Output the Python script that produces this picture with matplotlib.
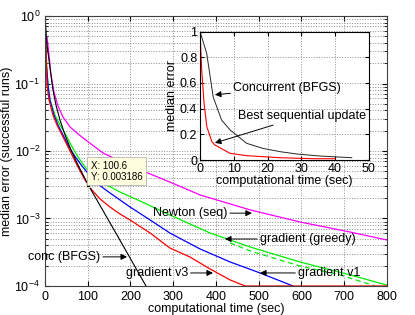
import numpy as np
import matplotlib
matplotlib.use('Agg')
from matplotlib import pyplot as plt

plt.rcParams['font.family'] = ['Liberation Sans', 'DejaVu Sans']
plt.rcParams['font.size'] = 9
plt.rcParams['mathtext.fontset'] = 'custom'
plt.rcParams['mathtext.rm'] = 'Liberation Sans'

# main plot: median error vs computational time (sec)
t_conc = [0, 2.3, 4.7, 9.4, 14, 18.7, 25.7, 35.1, 46.8, 60.8, 77.2, 100.6, 168.4, 236.3]
e_conc = [1.0, 0.62, 0.372, 0.223, 0.134, 0.0801, 0.048, 0.0288, 0.0173, 0.01035, 0.0062,
          0.003186, 0.00057, 1e-4]

t_v3 = [1.5, 3, 4.7, 9.4, 18.7, 28, 39.8, 51.5, 63.2, 77.2, 93.6, 110, 128.7, 152, 175, 199,
        246, 292, 339, 386, 433, 468, 800]
e_v3 = [0.5, 0.2, 0.095, 0.057, 0.0341, 0.0243, 0.0173, 0.0123, 0.00873, 0.00579, 0.00372,
        0.00264, 0.00195, 0.00148, 0.00117, 0.00095, 0.00061, 0.000366, 0.000269, 0.000179,
        0.000123, 1e-4, 1e-4]

t_v1 = [1, 2.3, 7, 11.7, 21, 30.4, 42.1, 53.8, 67.8, 86.5, 117, 152, 199, 246, 292, 363, 433,
        503, 580]
e_v1 = [0.6, 0.223, 0.095, 0.057, 0.0341, 0.0243, 0.0173, 0.0123, 0.00873, 0.0060, 0.00347,
        0.00239, 0.00148, 0.00095, 0.00061, 0.000353, 0.000227, 0.000156, 1e-4]

t_greedy = [0, 2.3, 7, 11.7, 23.4, 35.1, 49.1, 60.8, 77.2, 93.6, 110, 135.7, 175.4, 222, 292,
            386, 480, 596.5, 713.5, 800]
e_greedy = [1.0, 0.313, 0.095, 0.057, 0.0341, 0.0243, 0.0173, 0.0123, 0.00815, 0.00579, 0.00441,
            0.00336, 0.00247, 0.00182, 0.00113, 0.00061, 0.000378, 0.000227, 0.000146, 0.000103]

t_greedy2 = [433, 480, 596, 690, 772]
e_greedy2 = [0.000434, 0.00033, 0.000198, 0.000146, 1e-4]

t_newton = [4.7, 9.4, 14, 21, 30.4, 42.1, 58.5, 77.2, 98.2, 135.7, 175.4, 229, 292, 363, 480,
            596.5, 713.5, 800]
e_newton = [0.489, 0.264, 0.134, 0.0748, 0.0464, 0.0319, 0.0227, 0.0179, 0.0141, 0.00934,
            0.00711, 0.00506, 0.00347, 0.00223, 0.00134, 0.000888, 0.000631, 0.00048]

# inset: first 50 sec on linear scale
ti_conc = [0, 1.97, 3.9, 6.4, 8.9, 13.8, 18.7, 23.7, 28.6, 35.5, 44.9]
ei_conc = [1.0, 0.83, 0.49, 0.31, 0.234, 0.13, 0.09, 0.065, 0.047, 0.031, 0.018]
ti_seq = [0, 0.5, 1.2, 2, 3.5, 4.4, 8.9, 13.8, 23.7, 33.5, 40]
ei_seq = [1.0, 0.70, 0.44, 0.26, 0.143, 0.117, 0.052, 0.034, 0.018, 0.010, 0.010]

xticks = [0, 100, 200, 300, 400, 500, 600, 700, 800]
xticks_in = [0, 10, 20, 30, 40, 50]
yticks_in = [0, 0.2, 0.4, 0.6, 0.8, 1]

fig = plt.figure(figsize=(4.15, 3.15), dpi=100)
ax = fig.add_axes([0.1084, 0.0921, 0.8241, 0.857])

ax.plot(t_newton, e_newton, color='#ff00ff', lw=0.9)
ax.plot(t_greedy, e_greedy, color='#00ee00', lw=0.9)
ax.plot(t_greedy2, e_greedy2, color='#00ee00', lw=0.9, ls='--', dashes=(4, 3))
ax.plot(t_v1, e_v1, color='#0000ff', lw=0.9)
ax.plot(t_v3, e_v3, color='#ff0000', lw=0.9, clip_on=False)
ax.plot(t_conc, e_conc, color='k', lw=0.8)

ax.set_yscale('log')
ax.set_xlim(0, 800)
ax.set_ylim(1e-4, 1)
ax.set_xticks(xticks)
ax.tick_params(which='both', direction='in', top=True, right=True, labelsize=9)
ax.tick_params(which='major', length=3.5)
ax.tick_params(which='minor', length=2)
ax.grid(True, which='major', ls=':', color='0.55', lw=0.7)
ax.grid(True, which='minor', axis='y', ls=':', color='0.55', lw=0.7)
for s in ax.spines.values():
    s.set_color('0.25')
ax.set_xlabel('computational time (sec)', fontsize=9, labelpad=0)
ax.set_ylabel('median error (successful runs)', fontsize=9, labelpad=1)

arr = dict(arrowstyle='-|>', color='k', lw=0.7, mutation_scale=9, shrinkA=0, shrinkB=0)
ax.annotate('conc (BFGS)', xy=(192, 2.7e-4), xytext=(129, 2.7e-4), ha='right', va='center',
            fontsize=9, arrowprops=arr)
ax.annotate('gradient v3', xy=(393, 1.56e-4), xytext=(334, 1.56e-4), ha='right', va='center',
            fontsize=9, arrowprops=arr)
ax.annotate('gradient v1', xy=(503, 1.56e-4), xytext=(592, 1.56e-4), ha='left', va='center',
            fontsize=9, arrowprops=arr)
ax.annotate('gradient (greedy)', xy=(421, 4.97e-4), xytext=(503, 4.97e-4), ha='left', va='center',
            fontsize=9, arrowprops=arr)
ax.annotate('Newton (seq)', xy=(484, 1.2e-3), xytext=(426, 1.2e-3), ha='right', va='center',
            fontsize=9, arrowprops=arr)

# data tip on the concurrent curve
ax.plot([t_conc[11]], [e_conc[11]], marker='s', ms=3.5, color='k', mec='#ffffe0', mew=0.6)
ax.annotate('X: %.1f\nY: %g' % (t_conc[11], e_conc[11]), xy=(t_conc[11], e_conc[11]),
            xytext=(2, 2), textcoords='offset points', ha='left', va='bottom', fontsize=7,
            linespacing=1.15,
            bbox=dict(boxstyle='square,pad=0.35', fc='#ffffe0', ec='0.7', lw=0.6))

ins = fig.add_axes([0.482, 0.492, 0.407, 0.408])
ins.set_facecolor('white')
ins.plot(ti_conc, ei_conc, color='0.15', lw=0.7)
ins.plot(ti_seq, ei_seq, color='#ff0000', lw=0.8)
ins.set_xlim(0, 50)
ins.set_ylim(0, 1)
ins.set_xticks(xticks_in)
ins.set_yticks(yticks_in)
ins.set_yticklabels(['0', '0.2', '0.4', '0.6', '0.8', '1'])
ins.tick_params(direction='in', top=True, right=True, labelsize=9, length=3, pad=2)
ins.grid(True, ls=':', color='0.55', lw=0.7)
ins.set_xlabel('computational time (sec)', fontsize=9, labelpad=0)
ins.set_ylabel('median error', fontsize=9, labelpad=1)
ins.annotate('Concurrent (BFGS)', xy=(4.4, 0.508), xytext=(9.8, 0.56), ha='left', va='center',
             fontsize=9, arrowprops=arr)
ins.annotate('Best sequential update', xy=(4.4, 0.133), xytext=(11.2, 0.34), ha='left', va='center',
             fontsize=9, arrowprops=arr)

fig.savefig('out.png', dpi=100)
